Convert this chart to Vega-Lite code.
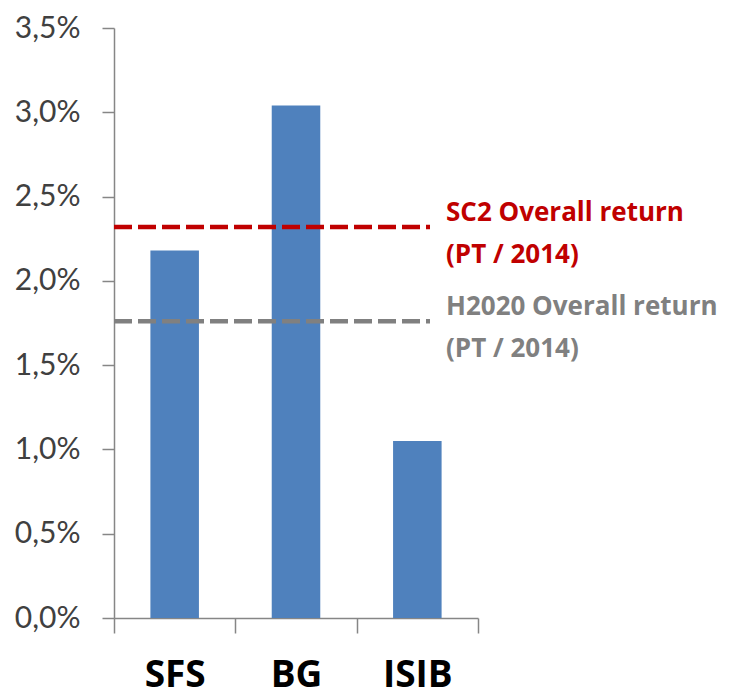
{
  "$schema": "https://vega.github.io/schema/vega-lite/v6.json",
  "width": 610,
  "height": 590,
  "autosize": {"type": "none"},
  "padding": {"left": 114, "top": 28, "right": 5, "bottom": 79},
  "background": "white",
  "config": {"view": {"stroke": null}, "font": "Lato"},
  "datasets": {
    "bars": [
      {"program": "SFS", "ret": 0.0218},
      {"program": "BG", "ret": 0.0304},
      {"program": "ISIB", "ret": 0.0105}
    ],
    "refs": [
      {"series": "SC2 Overall return", "label": "SC2 Overall return\n(PT / 2014)", "ret": 0.0232},
      {"series": "H2020 Overall return", "label": "H2020 Overall return\n(PT / 2014)", "ret": 0.0176}
    ]
  },
  "layer": [
    {
      "data": {"name": "bars"},
      "mark": {"type": "bar", "color": "#4F81BD", "width": {"band": 0.4}},
      "encoding": {
        "x": {
          "field": "program", "type": "nominal", "sort": null,
          "scale": {"range": [0, 364], "paddingInner": 0, "paddingOuter": 0},
          "axis": {
            "title": null, "labelAngle": 0, "labelFontSize": 37, "labelFontWeight": "bold",
            "labelColor": "#000000", "labelFont": "Open Sans", "tickBand": "extent", "tickSize": 15,
            "labelPadding": 24, "domainColor": "#868686", "tickColor": "#868686",
            "domainWidth": 1.5, "tickWidth": 1.5
          }
        },
        "y": {
          "field": "ret", "type": "quantitative",
          "scale": {"domain": [0, 0.035], "nice": false},
          "axis": {
            "title": null, "grid": false,
            "values": [0, 0.005, 0.01, 0.015, 0.02, 0.025, 0.03, 0.035],
            "labelExpr": "replace(format(datum.value, '.1%'), '.', ',')",
            "labelFontSize": 30, "labelColor": "#404040", "labelFont": "Lato",
            "tickSize": 12, "labelPadding": 22, "domainColor": "#868686", "tickColor": "#868686",
            "domainWidth": 1.5, "tickWidth": 1.5
          }
        }
      }
    },
    {
      "data": {"name": "refs"},
      "mark": {"type": "rule", "strokeWidth": 4.5, "strokeDash": [18, 6]},
      "encoding": {
        "x": {"datum": 0, "type": "quantitative", "scale": {"domain": [0, 610]}, "axis": null},
        "x2": {"datum": 316},
        "y": {"field": "ret", "type": "quantitative"},
        "color": {
          "field": "series", "type": "nominal",
          "scale": {"domain": ["SC2 Overall return", "H2020 Overall return"], "range": ["#C00000", "#808080"]},
          "legend": null
        }
      }
    },
    {
      "data": {"name": "refs"},
      "mark": {"type": "text", "align": "left", "baseline": "alphabetic", "fontWeight": "bold", "fontSize": 26, "dy": -6, "lineHeight": 42, "lineBreak": "\n", "font": "Open Sans"},
      "encoding": {
        "x": {"datum": 332, "type": "quantitative", "scale": {"domain": [0, 610]}, "axis": null},
        "y": {"field": "ret", "type": "quantitative"},
        "text": {"field": "label"},
        "color": {
          "field": "series", "type": "nominal",
          "scale": {"domain": ["SC2 Overall return", "H2020 Overall return"], "range": ["#C00000", "#808080"]},
          "legend": null
        }
      }
    }
  ],
  "resolve": {"scale": {"x": "independent"}}
}
